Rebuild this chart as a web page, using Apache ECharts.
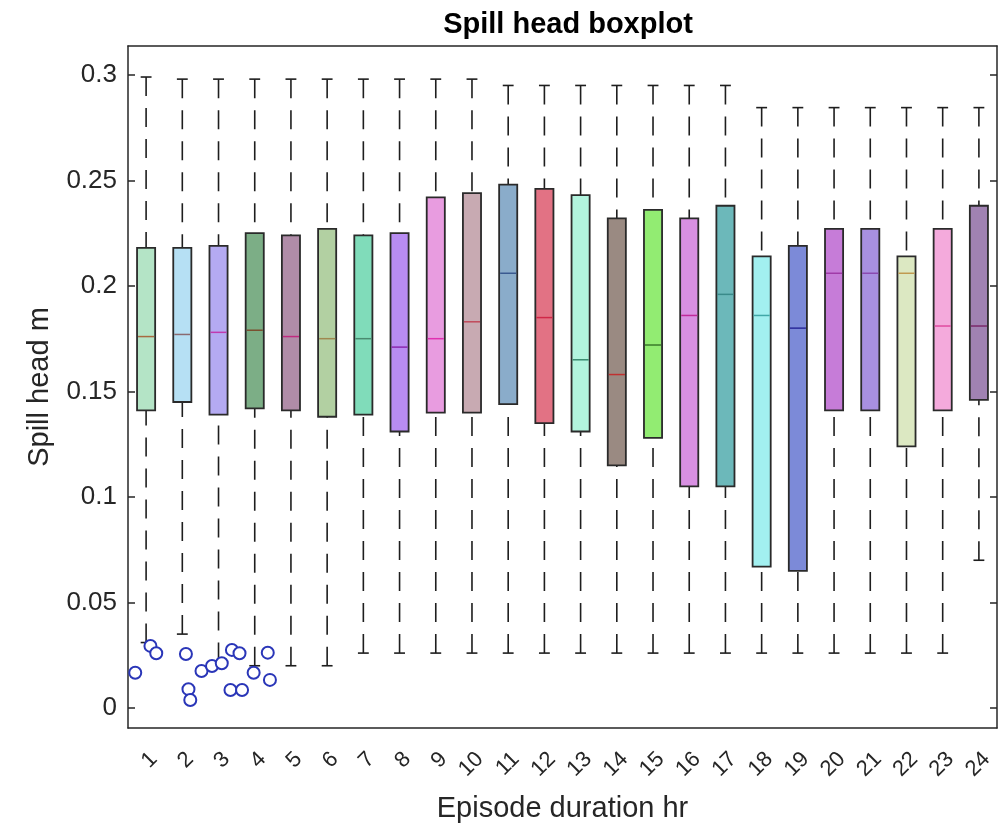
<!DOCTYPE html>
<html>
<head>
<meta charset="utf-8">
<script src="https://cdn.jsdelivr.net/npm/echarts@6/dist/echarts.min.js"></script>
<style>
html,body{margin:0;padding:0;background:#fff;}
#chart{width:1003px;height:824px;}
</style>
</head>
<body>
<div id="chart"></div>
<script>
// ---- data ----
const categories = ['1','2','3','4','5','6','7','8','9','10','11','12','13','14','15','16','17','18','19','20','21','22','23','24'];
const lowerWhisker = [0.031,0.035,0.022,0.020,0.020,0.020,0.026,0.026,0.026,0.026,0.026,0.026,0.026,0.026,0.026,0.026,0.026,0.026,0.026,0.026,0.026,0.026,0.026,0.070];
const q1 = [0.141,0.145,0.139,0.142,0.141,0.138,0.139,0.131,0.140,0.140,0.144,0.135,0.131,0.115,0.128,0.105,0.105,0.067,0.065,0.141,0.141,0.124,0.141,0.146];
const median = [0.176,0.177,0.178,0.179,0.176,0.175,0.175,0.171,0.175,0.183,0.206,0.185,0.165,0.158,0.172,0.186,0.196,0.186,0.180,0.206,0.206,0.206,0.181,0.181];
const q3 = [0.218,0.218,0.219,0.225,0.224,0.227,0.224,0.225,0.242,0.244,0.248,0.246,0.243,0.232,0.236,0.232,0.238,0.214,0.219,0.227,0.227,0.214,0.227,0.238];
const upperWhisker = [0.299,0.298,0.298,0.298,0.298,0.298,0.298,0.298,0.298,0.298,0.295,0.295,0.295,0.295,0.295,0.295,0.295,0.2845,0.2845,0.2845,0.2845,0.2845,0.2845,0.2845];
// outliers: [jittered category position (1-based), value]
const outlierPos = [0.70,1.12,1.28,2.10,2.17,2.22,2.53,2.82,3.09,3.37,3.58,3.33,3.65,3.97,4.36,4.42];
const outlierVal = [0.0167,0.0294,0.0259,0.0256,0.0089,0.0038,0.0175,0.0199,0.0212,0.0275,0.0259,0.0085,0.0085,0.0167,0.0262,0.0133];
const yTicks = [0,0.05,0.1,0.15,0.2,0.25,0.3];

// ---- styles ----
const boxColors = ['#b4e4c6','#b6e0f4','#b4aaf2','#7cae86','#b08ca8','#b2d0a2','#80dcba','#b88cf2','#e89ce0','#c8aab2',
  '#8aacca','#e27284','#b2f4de','#9a8a82','#92ec72','#d890e2','#6cb8ba','#a2f0f0','#7c8ad8','#c67cd8',
  '#a890e0','#dce8c2','#f4aadc','#a082b2'];
const medianColors = ['#a86a40','#8a6a70','#c03ab0','#7a5030','#c02a80','#a08850','#4a8a70','#8a2ab0','#e030b0','#c04a5a',
  '#3a5a90','#d02848','#3a8a70','#c03030','#3a7a2a','#c02a9a','#3a8a8a','#40a8a8','#2a2a9a','#a03aa8',
  '#8a4ab0','#c09a50','#e04aa0','#7a2a6a'];

const boxData = categories.map((c, i) => [i, lowerWhisker[i], q1[i], median[i], q3[i], upperWhisker[i]]);
const outlierData = outlierPos.map((p, i) => [p, outlierVal[i]]);

const FONT = '"Liberation Sans", Arial, Helvetica, sans-serif';
const YMIN = -0.0095, YMAX = 0.3137;

function renderBox(params, api) {
  const idx = api.value(0);
  const band = api.size([1, 0])[0];
  const halfW = band * 0.25;
  const capW = band * 0.15;
  const pLow = api.coord([idx, api.value(1)]);
  const pQ1 = api.coord([idx, api.value(2)]);
  const pMed = api.coord([idx, api.value(3)]);
  const pQ3 = api.coord([idx, api.value(4)]);
  const pHigh = api.coord([idx, api.value(5)]);
  const x = pMed[0];
  const whiskerStyle = {stroke: '#1e1e1e', lineWidth: 1.6, lineDash: [19, 12]};
  const capStyle = {stroke: '#1e1e1e', lineWidth: 1.6};
  return {
    type: 'group',
    children: [
      {type: 'line', shape: {x1: x, y1: pHigh[1], x2: x, y2: pQ3[1]}, style: whiskerStyle},
      {type: 'line', shape: {x1: x, y1: pLow[1], x2: x, y2: pQ1[1]}, style: whiskerStyle},
      {type: 'line', shape: {x1: x - capW, y1: pHigh[1], x2: x + capW, y2: pHigh[1]}, style: capStyle},
      {type: 'line', shape: {x1: x - capW, y1: pLow[1], x2: x + capW, y2: pLow[1]}, style: capStyle},
      {type: 'rect', shape: {x: x - halfW, y: pQ3[1], width: halfW * 2, height: pQ1[1] - pQ3[1]},
        style: {fill: boxColors[idx], stroke: '#2a2a2a', lineWidth: 1.8}},
      {type: 'line', shape: {x1: x - halfW + 1, y1: pMed[1], x2: x + halfW - 1, y2: pMed[1]},
        style: {stroke: medianColors[idx], lineWidth: 1.5}}
    ]
  };
}

const chart = echarts.init(document.getElementById('chart'), null, {renderer: 'canvas'});
const axisCol = '#262626';
chart.setOption({
  animation: false,
  backgroundColor: '#ffffff',
  textStyle: {fontFamily: FONT},
  title: {
    text: 'Spill head boxplot', left: 563, textAlign: 'center', top: 5,
    textStyle: {fontFamily: FONT, fontSize: 29, fontWeight: 'bold', color: '#000'}
  },
  grid: {left: 128, right: 6, top: 46, bottom: 96, containLabel: false, outerBoundsMode: 'none'},
  xAxis: [
    {
      type: 'category', data: categories, position: 'bottom', boundaryGap: true,
      name: 'Episode duration hr', nameLocation: 'middle', nameGap: 66,
      nameTextStyle: {fontFamily: FONT, fontSize: 29, color: axisCol},
      axisLine: {onZero: false, lineStyle: {color: axisCol, width: 1.5}},
      axisTick: {inside: true, length: 7, alignWithLabel: true, lineStyle: {color: axisCol, width: 1.5}},
      axisLabel: {rotate: 45, interval: 0, margin: 20, fontFamily: FONT, fontSize: 22, color: axisCol,
        align: 'right', verticalAlign: 'top'},
      splitLine: {show: false}
    },
    {
      type: 'category', data: categories, position: 'top', boundaryGap: true,
      axisLine: {onZero: false, lineStyle: {color: axisCol, width: 1.5}},
      axisTick: {inside: true, length: 7, alignWithLabel: true, lineStyle: {color: axisCol, width: 1.5}},
      axisLabel: {show: false}, splitLine: {show: false}
    },
    {
      type: 'value', min: 0.5, max: 24.5, show: false
    }
  ],
  yAxis: [
    {
      type: 'value', min: YMIN, max: YMAX, position: 'left',
      name: 'Spill head m', nameLocation: 'middle', nameGap: 74, nameRotate: 90,
      nameTextStyle: {fontFamily: FONT, fontSize: 29, color: axisCol},
      axisLine: {show: true, onZero: false, lineStyle: {color: axisCol, width: 1.5}},
      axisTick: {show: true, inside: true, length: 7, customValues: yTicks, lineStyle: {color: axisCol, width: 1.5}},
      axisLabel: {customValues: yTicks, margin: 11, fontFamily: FONT, fontSize: 26, color: axisCol,
        formatter: v => String(+v.toFixed(4))},
      splitLine: {show: false}
    },
    {
      type: 'value', min: YMIN, max: YMAX, position: 'right',
      axisLine: {show: true, onZero: false, lineStyle: {color: axisCol, width: 1.5}},
      axisTick: {show: true, inside: true, length: 7, customValues: yTicks, lineStyle: {color: axisCol, width: 1.5}},
      axisLabel: {show: false}, splitLine: {show: false}
    }
  ],
  series: [
    {
      type: 'custom', xAxisIndex: 0, yAxisIndex: 0,
      renderItem: renderBox,
      encode: {x: 0, y: [1, 2, 3, 4, 5]},
      data: boxData, clip: false
    },
    {
      type: 'scatter', xAxisIndex: 2, yAxisIndex: 0,
      symbol: 'emptyCircle', symbolSize: 12,
      itemStyle: {color: '#2a36b8', borderColor: '#2a36b8', borderWidth: 1.2, opacity: 1},
      data: outlierData
    }
  ]
});
</script>
</body>
</html>
